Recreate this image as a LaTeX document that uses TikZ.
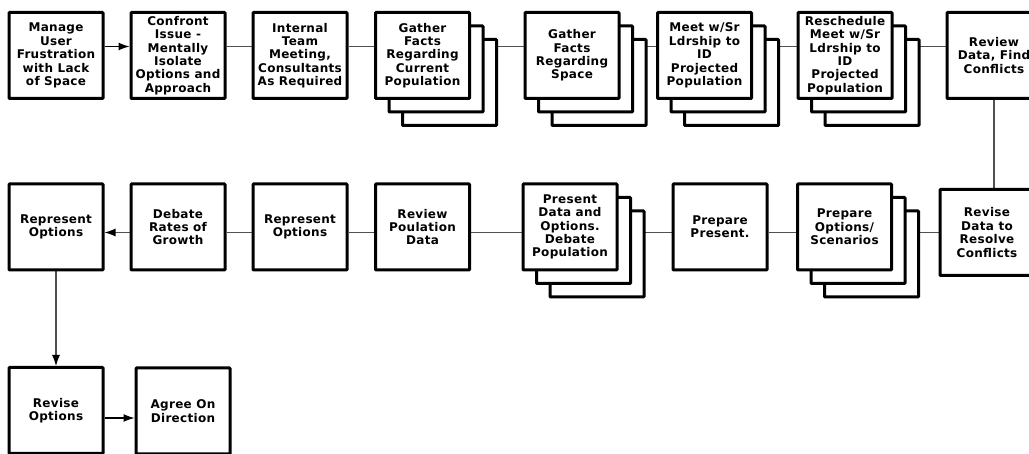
\documentclass[tikz,border=0pt]{standalone}
\usepackage{fontspec}
\setmainfont{DejaVu Sans}[LetterSpace=2.5]
\usetikzlibrary{arrows.meta,shadows,backgrounds}
\definecolor{linegray}{HTML}{505050}
\tikzset{
  boxstyle/.style={draw=black, line width=3pt, fill=white, rectangle, rounded corners=0.8pt,
    minimum width=94pt, minimum height=86pt, inner sep=1pt, align=center,
    font=\fontsize{12}{13.4}\selectfont\bfseries},
  stackbox/.style={boxstyle,
    copy shadow={shadow xshift=27pt,shadow yshift=-27pt},
    copy shadow={shadow xshift=13.5pt,shadow yshift=-13.5pt}},
  conn/.style={draw=linegray, line width=1.1pt},
  arr/.style={conn, -{Latex[length=11pt,width=8pt,color=black]}},
}
\begin{document}
\begin{tikzpicture}[x=1pt,y=-1pt]
\useasboundingbox (0,0) rectangle (1029,454);
\clip (0,0) rectangle (1029,454);
% top row
\node[boxstyle] (b1) at (56,55.5) {Manage\\User\\Frustration\\with Lack\\of Space};
\node[boxstyle] (b2) at (178,55.5) {Confront\\Issue -\\Mentally\\Isolate\\Options and\\Approach};
\node[boxstyle] (b3) at (300,55.5) {Internal\\Team\\Meeting,\\Consultants\\As Required};
\node[stackbox] (b4) at (422.5,55.5) {Gather\\Facts\\Regarding\\Current\\Population};
\node[stackbox] (b5) at (572,55.5) {Gather\\Facts\\Regarding\\Space};
\node[stackbox] (b6) at (704.5,55.5) {Meet w/Sr\\Ldrship to\\ID\\Projected\\Population};
\node[stackbox] (b7) at (845,55.5) {Reschedule\\Meet w/Sr\\Ldrship to\\ID\\Projected\\Population};
\node[boxstyle] (b8) at (994,55.5) {Review\\Data, Find\\Conflicts};
% middle row
\node[boxstyle] (m1) at (56,227) {Represent\\Options};
\node[boxstyle] (m2) at (178,227) {Debate\\Rates of\\Growth};
\node[boxstyle] (m3) at (300,227) {Represent\\Options};
\node[boxstyle] (m4) at (422.5,227) {Review\\Poulation\\Data};
\node[stackbox] (m5) at (570,227) {Present\\Data and\\Options.\\Debate\\Population};
\node[boxstyle] (m6) at (720,227) {Prepare\\Present.};
\node[stackbox] (m7) at (844.5,227) {Prepare\\Options/\\Scenarios};
\node[boxstyle] (m8) at (987,232.5) {Revise\\Data to\\Resolve\\Conflicts};
% bottom row
\node[boxstyle] (r1) at (56,410.5) {Revise\\Options};
\node[boxstyle] (r2) at (183,411) {Agree On\\Direction};
% row levels
\coordinate (ytop) at (0,46.5);
\coordinate (ymid) at (0,232.5);
\coordinate (ybot) at (0,418);
\begin{scope}[on background layer]
\draw[arr, draw=black] (b1.east |- ytop) -- (b2.west |- ytop);
\draw[conn] (b2.east |- ytop) -- (b3.west |- ytop);
\draw[conn] (b3.east |- ytop) -- (b4.west |- ytop);
\draw[conn] (b4.east |- ytop) -- (b5.west |- ytop);
\draw[conn] (b5.east |- ytop) -- (b6.west |- ytop);
\draw[conn] (b6.east |- ytop) -- (b7.west |- ytop);
\draw[conn] (b7.east |- ytop) -- (b8.west |- ytop);
\draw[conn] (b8.south) -- (b8.south |- m8.north);
\draw[conn] (m8.west |- ymid) -- (m7.east |- ymid);
\draw[conn] (m7.west |- ymid) -- (m6.east |- ymid);
\draw[conn] (m6.west |- ymid) -- (m5.east |- ymid);
\draw[conn] (m5.west |- ymid) -- (m4.east |- ymid);
\draw[conn] (m4.west |- ymid) -- (m3.east |- ymid);
\draw[conn] (m3.west |- ymid) -- (m2.east |- ymid);
\draw[arr] (m2.west |- ymid) -- (m1.east |- ymid);
\draw[arr] (m1.south) -- (r1.north);
\draw[arr, draw=black] (r1.east |- ybot) -- (r2.west |- ybot);
\end{scope}
\end{tikzpicture}
\end{document}
